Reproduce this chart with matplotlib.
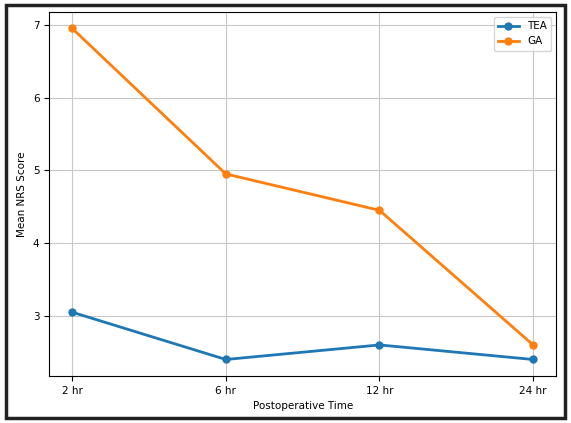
import matplotlib.pyplot as plt
from matplotlib.patches import Rectangle

times = ["2 hr", "6 hr", "12 hr", "24 hr"]
tea = [3.05, 2.4, 2.6, 2.4]
ga = [6.95, 4.95, 4.45, 2.6]

fig = plt.figure(figsize=(5.71, 4.23), dpi=100)
ax = fig.add_axes([0.086, 0.111, 0.888, 0.861])

ax.plot(times, tea, marker='o', markersize=5, linewidth=2, label='TEA')
ax.plot(times, ga, marker='o', markersize=5, linewidth=2, label='GA')

ax.set_xlabel("Postoperative Time", fontsize=7.5)
ax.set_ylabel("Mean NRS Score", fontsize=7.5)
ax.tick_params(labelsize=7.5)
ax.grid(True, color='#c8c8c8')
ax.legend(loc='upper right', fontsize=7.5)

# screenshot frame
fig.patches.append(Rectangle((0.01, 0.012), 0.98, 0.976, transform=fig.transFigure,
                             fill=False, edgecolor='#222222', linewidth=2.5))

fig.savefig("out.png", dpi=100)
